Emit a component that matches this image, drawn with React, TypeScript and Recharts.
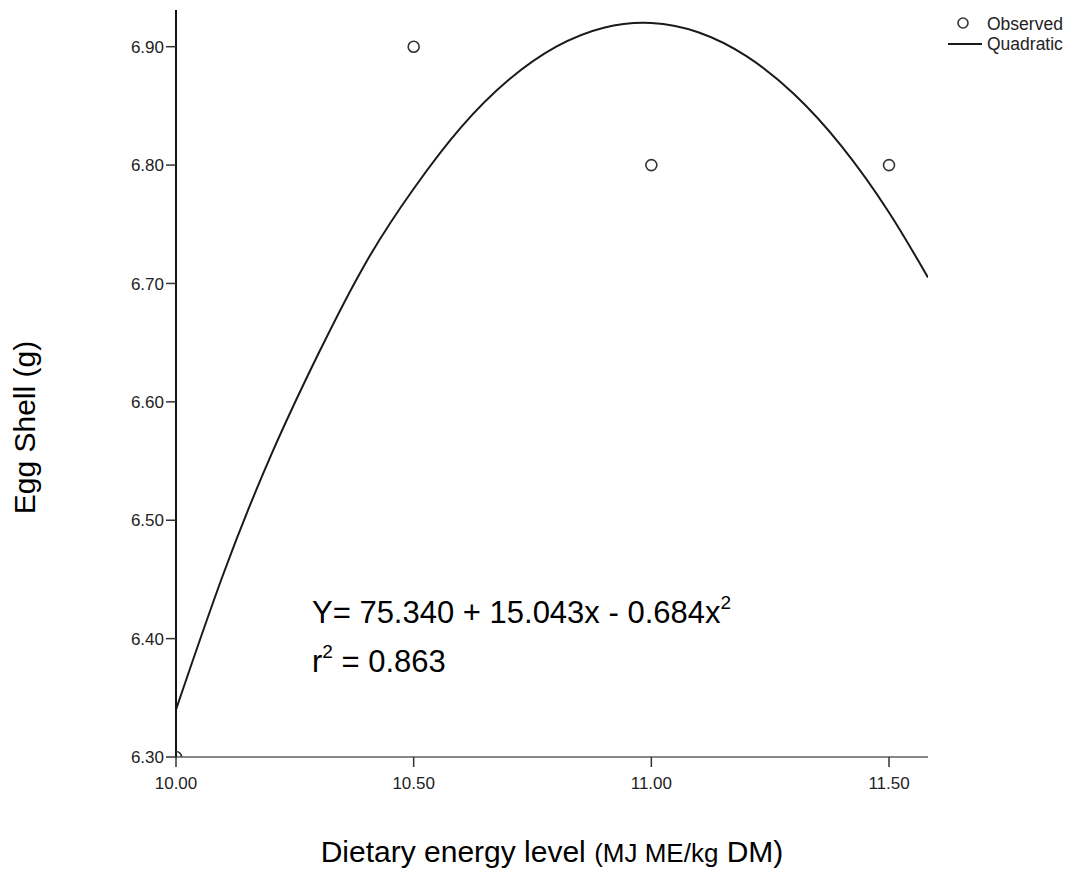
import React from "react";
import {
  ComposedChart,
  Line,
  Scatter,
  XAxis,
  YAxis,
} from "recharts";

// observed means
const observedX = [10.0, 10.5, 11.0, 11.5];
const observedY = [6.3, 6.9, 6.8, 6.8];

// quadratic fit, points
const curveX = [
  10.0, 10.1, 10.2, 10.3, 10.4, 10.5, 10.6, 10.7, 10.8, 10.9, 11.0, 11.1, 11.2,
  11.3, 11.4, 11.5, 11.582,
];
const curveY = [
  6.34, 6.455, 6.555, 6.641, 6.718, 6.78, 6.832, 6.872, 6.9, 6.916, 6.92,
  6.912, 6.892, 6.86, 6.816, 6.76, 6.705,
];

const xTicks = [10.0, 10.5, 11.0, 11.5];
const yTicks = [6.3, 6.4, 6.5, 6.6, 6.7, 6.8, 6.9];

const observed = observedX.map((x, i) => ({ x, y: observedY[i] }));
const curve = curveX.map((x, i) => ({ x, y: curveY[i] }));

const FONT = "'Liberation Sans', Arial, sans-serif";

const OpenCircle = (props: any) => {
  const { cx, cy } = props;
  return (
    <circle cx={cx} cy={cy} r={5.5} fill="none" stroke="#333" strokeWidth={1.6} />
  );
};

export default function App() {
  return (
    <div style={{ position: "relative", width: 1058, height: 870, fontFamily: FONT }}>
      <ComposedChart
        width={1058}
        height={870}
        margin={{ top: 2, right: 138, left: 0, bottom: 10 }}
      >
        <XAxis
          type="number"
          dataKey="x"
          domain={[10, 11.582]}
          ticks={xTicks}
          allowDataOverflow
          tickFormatter={(v: number) => v.toFixed(2)}
          tick={{ fill: "#222", fontSize: 17, fontFamily: FONT }}
          tickSize={10}
          tickMargin={10}
          tickLine={{ stroke: "#333", strokeWidth: 1.5 }}
          axisLine={{ stroke: "#888", strokeWidth: 2 }}
          height={111}
          label={{
            content: ({ viewBox }: any) => (
              <text
                x={viewBox.x + viewBox.width / 2}
                y={viewBox.y + viewBox.height - 6}
                textAnchor="middle"
                fill="#000"
                fontFamily={FONT}
                fontSize={30}
              >
                Dietary energy level{" "}
                <tspan fontSize={26}>(MJ ME/kg</tspan> DM)
              </text>
            ),
          }}
        />
        <YAxis
          type="number"
          dataKey="y"
          domain={[6.3, 6.931]}
          ticks={yTicks}
          allowDataOverflow
          tickFormatter={(v: number) => v.toFixed(2)}
          tick={{ fill: "#222", fontSize: 17, fontFamily: FONT }}
          tickSize={10}
          tickMargin={2}
          tickLine={{ stroke: "#333", strokeWidth: 1.5 }}
          axisLine={{ stroke: "#111", strokeWidth: 2 }}
          width={168}
          label={{
            content: ({ viewBox }: any) => {
              const cx = 27;
              const cy = viewBox.y + viewBox.height / 2 + 44;
              return (
                <text
                  x={cx}
                  y={cy}
                  transform={`rotate(-90, ${cx}, ${cy})`}
                  textAnchor="middle"
                  fill="#000"
                  fontFamily={FONT}
                  fontSize={30}
                >
                  Egg Shell (g)
                </text>
              );
            },
          }}
        />
        <Line
          data={curve}
          dataKey="y"
          type="natural"
          stroke="#1a1a1a"
          strokeWidth={2}
          dot={false}
          activeDot={false}
          isAnimationActive={false}
        />
        <Scatter
          data={observed}
          dataKey="y"
          shape={<OpenCircle />}
          isAnimationActive={false}
        />
      </ComposedChart>

      <div
        style={{
          position: "absolute",
          left: 304,
          top: 580,
          fontSize: 31,
          color: "#000",
          lineHeight: "49px",
        }}
      >
        <div>
          Y= 75.340 + 15.043x - 0.684x
          <sup style={{ fontSize: 19, verticalAlign: "0.75em", lineHeight: 0 }}>2</sup>
        </div>
        <div>
          r<sup style={{ fontSize: 19, verticalAlign: "0.75em", lineHeight: 0 }}>2</sup> = 0.863
        </div>
      </div>

      <div
        style={{
          position: "absolute",
          left: 938,
          top: 6,
          fontSize: 17.5,
          color: "#222",
          lineHeight: "20px",
        }}
      >
        <div style={{ display: "flex", alignItems: "center" }}>
          <svg width={40} height={20}>
            <circle cx={17} cy={9} r={5} fill="none" stroke="#333" strokeWidth={1.6} />
          </svg>
          <span style={{ marginLeft: 1 }}>Observed</span>
        </div>
        <div style={{ display: "flex", alignItems: "center" }}>
          <svg width={40} height={20}>
            <line x1={2} y1={10} x2={36} y2={10} stroke="#1a1a1a" strokeWidth={2} />
          </svg>
          <span style={{ marginLeft: 1 }}>Quadratic</span>
        </div>
      </div>
    </div>
  );
}
